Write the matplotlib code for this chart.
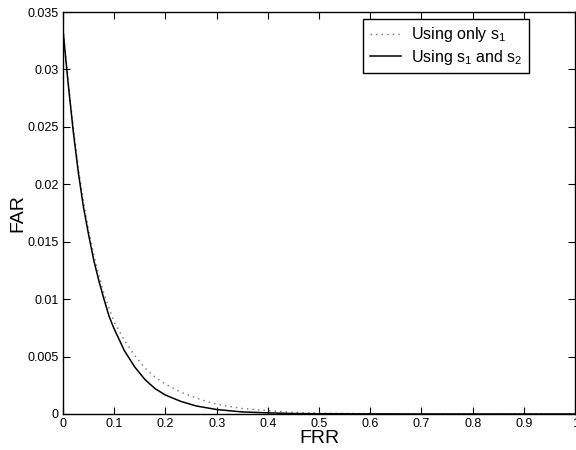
import numpy as np
import matplotlib
matplotlib.use('Agg')
import matplotlib.pyplot as plt

plt.rcParams['font.family'] = ['Liberation Sans', 'DejaVu Sans']

# FAR vs FRR
frr_s1 = [0.0, 0.01, 0.02, 0.03, 0.04, 0.05, 0.06, 0.07, 0.08, 0.09, 0.10,
          0.12, 0.14, 0.16, 0.18, 0.20, 0.23, 0.26, 0.28, 0.30, 0.345, 0.41,
          0.455, 0.50, 0.58, 0.70, 1.0]
far_s1 = [0.0336, 0.0290, 0.0250, 0.0214, 0.0185, 0.0160, 0.0139, 0.0121,
          0.0105, 0.0092, 0.0080, 0.0064, 0.0051, 0.0040, 0.0032, 0.0026,
          0.0019, 0.0014, 0.0011, 0.00085, 0.0005, 0.00026, 0.00013,
          0.00008, 0.00004, 0.00001, 0.0]

frr_s12 = [0.0, 0.01, 0.02, 0.03, 0.04, 0.05, 0.06, 0.07, 0.08, 0.09, 0.10,
           0.12, 0.14, 0.16, 0.18, 0.20, 0.23, 0.26, 0.30, 0.35, 0.40, 0.45,
           0.50, 0.60, 0.70, 1.0]
far_s12 = [0.0334, 0.0288, 0.0246, 0.0210, 0.0180, 0.0156, 0.0134, 0.0116,
           0.0100, 0.0085, 0.0074, 0.0055, 0.0041, 0.0030, 0.0022, 0.00165,
           0.0011, 0.0007, 0.00039, 0.00018, 0.0001, 0.00004, 0.00002,
           0.00001, 0.0, 0.0]

fig = plt.figure(figsize=(5.76, 4.5), dpi=100)
ax = fig.add_axes([0.1094, 0.08, 0.889, 0.8933])

ax.plot(frr_s1, far_s1, color='#707070', linestyle=(0, (1, 3)), linewidth=1.0,
        label=r'Using only $\mathregular{s_1}$')
ax.plot(frr_s12, far_s12, color='black', linestyle='-', linewidth=1.1,
        label=r'Using $\mathregular{s_1}$ and $\mathregular{s_2}$')

ax.set_xlim(0, 1)
ax.set_ylim(0, 0.035)
ax.set_xticks(np.arange(0, 1.01, 0.1))
ax.set_xticklabels(['0', '0.1', '0.2', '0.3', '0.4', '0.5', '0.6', '0.7', '0.8', '0.9', '1'])
ax.set_yticks(np.arange(0, 0.0351, 0.005))
ax.set_yticklabels(['0', '0.005', '0.01', '0.015', '0.02', '0.025', '0.03', '0.035'])
ax.tick_params(direction='in', top=True, right=True, length=5, width=0.8,
               labelsize=9, pad=3)
for s in ax.spines.values():
    s.set_linewidth(1.0)
    s.set_color('black')

ax.set_xlabel('FRR', fontsize=14, labelpad=0)
ax.set_ylabel('FAR', fontsize=14, labelpad=1)

leg = ax.legend(loc='upper right', bbox_to_anchor=(0.910, 0.9826),
                borderaxespad=0, fontsize=11.5, fancybox=False, framealpha=1,
                edgecolor='black', handlelength=2.0, handletextpad=0.6,
                labelspacing=0.2, borderpad=0.4)
leg.get_frame().set_linewidth(1.0)

fig.savefig('out.png', dpi=100)
